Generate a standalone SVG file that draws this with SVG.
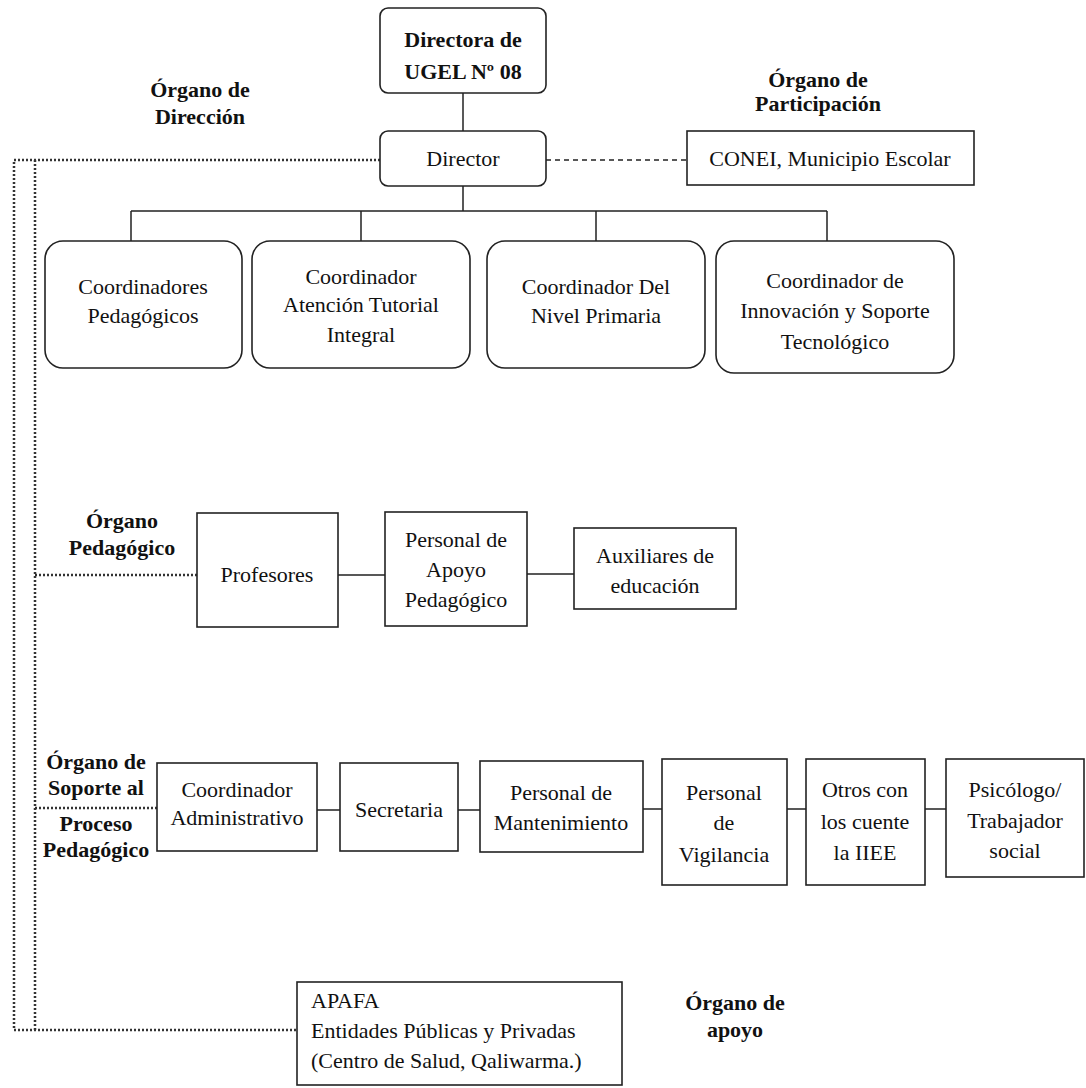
<svg xmlns="http://www.w3.org/2000/svg" width="1086" height="1088" viewBox="0 0 1086 1088">
<style>
.box{fill:#fff;stroke:#222;stroke-width:1.6}
.t{font-family:"Liberation Serif","Times New Roman",Tinos,"DejaVu Serif",serif;font-size:22px;fill:#111;text-anchor:middle}
.b{font-weight:bold}
.l{text-anchor:start}
.ln{stroke:#222;stroke-width:1.5;fill:none}
.dash{stroke:#222;stroke-width:1.3;fill:none;stroke-dasharray:5 4}
.dot{stroke:#333;stroke-width:2.5;fill:none;stroke-dasharray:2 2}
</style>
<rect width="1086" height="1088" fill="#fff"/>
<g id="connectors">
<path class="dot" d="M380 160 H14 V1030 H297"/>
<path class="dot" d="M35 160 V1030"/>
<path class="dot" d="M35 575 H197"/>
<path class="dot" d="M35 808 H157"/>
<path class="ln" d="M463 93 V131"/>
<path class="dash" d="M546 160 H687"/>
<path class="ln" d="M463 186 V211 M131 211 H827 M131 211 V241 M361 211 V241 M596 211 V241 M827 211 V241"/>
<path class="ln" d="M338 575 H385 M527 574 H574"/>
<path class="ln" d="M317 810 H340 M458 810 H480 M643 809 H662 M787 809 H806 M925 809 H946"/>
</g>
<g id="labels">
<text class="t b" x="200" y="97">Órgano de</text>
<text class="t b" x="200" y="124">Dirección</text>
<text class="t b" x="818" y="87">Órgano de</text>
<text class="t b" x="818" y="111">Participación</text>
<text class="t b" x="122" y="528">Órgano</text>
<text class="t b" x="122" y="555">Pedagógico</text>
<text class="t b" x="96" y="769">Órgano de</text>
<text class="t b" x="96" y="795">Soporte al</text>
<text class="t b" x="96" y="831">Proceso</text>
<text class="t b" x="96" y="857">Pedagógico</text>
<text class="t b" x="735" y="1010">Órgano de</text>
<text class="t b" x="735" y="1037">apoyo</text>
</g>
<g id="directora">
<rect class="box" x="380" y="8" width="166" height="85" rx="8"/>
<text class="t b" x="463" y="47">Directora de</text>
<text class="t b" x="463" y="79">UGEL Nº 08</text>
</g>
<g id="director">
<rect class="box" x="380" y="131" width="166" height="55" rx="8"/>
<text class="t" x="463" y="166">Director</text>
</g>
<g id="conei">
<rect class="box" x="687" y="131" width="287" height="54"/>
<text class="t" x="830" y="166">CONEI, Municipio Escolar</text>
</g>
<g id="coord-pedagogicos">
<rect class="box" x="45" y="241" width="197" height="127" rx="18"/>
<text class="t" x="143" y="294">Coordinadores</text>
<text class="t" x="143" y="323">Pedagógicos</text>
</g>
<g id="coord-tutorial">
<rect class="box" x="252" y="241" width="218" height="127" rx="18"/>
<text class="t" x="361" y="284">Coordinador</text>
<text class="t" x="361" y="312">Atención Tutorial</text>
<text class="t" x="361" y="342">Integral</text>
</g>
<g id="coord-primaria">
<rect class="box" x="487" y="241" width="218" height="127" rx="18"/>
<text class="t" x="596" y="294">Coordinador Del</text>
<text class="t" x="596" y="323">Nivel Primaria</text>
</g>
<g id="coord-innovacion">
<rect class="box" x="716" y="241" width="238" height="132" rx="18"/>
<text class="t" x="835" y="288">Coordinador de</text>
<text class="t" x="835" y="318">Innovación y Soporte</text>
<text class="t" x="835" y="349">Tecnológico</text>
</g>
<g id="profesores">
<rect class="box" x="197" y="513" width="141" height="114"/>
<text class="t" x="267" y="582">Profesores</text>
</g>
<g id="apoyo-pedagogico">
<rect class="box" x="385" y="512" width="142" height="114"/>
<text class="t" x="456" y="547">Personal de</text>
<text class="t" x="456" y="577">Apoyo</text>
<text class="t" x="456" y="607">Pedagógico</text>
</g>
<g id="auxiliares">
<rect class="box" x="574" y="528" width="162" height="81"/>
<text class="t" x="655" y="563">Auxiliares de</text>
<text class="t" x="655" y="593">educación</text>
</g>
<g id="coord-administrativo">
<rect class="box" x="157" y="763" width="160" height="88"/>
<text class="t" x="237" y="797">Coordinador</text>
<text class="t" x="237" y="825">Administrativo</text>
</g>
<g id="secretaria">
<rect class="box" x="340" y="763" width="118" height="88"/>
<text class="t" x="399" y="817">Secretaria</text>
</g>
<g id="mantenimiento">
<rect class="box" x="480" y="761" width="163" height="91"/>
<text class="t" x="561" y="800">Personal de</text>
<text class="t" x="561" y="830">Mantenimiento</text>
</g>
<g id="vigilancia">
<rect class="box" x="662" y="759" width="125" height="126"/>
<text class="t" x="724" y="800">Personal</text>
<text class="t" x="724" y="830">de</text>
<text class="t" x="724" y="862">Vigilancia</text>
</g>
<g id="otros">
<rect class="box" x="806" y="759" width="119" height="126"/>
<text class="t" x="865" y="797">Otros con</text>
<text class="t" x="865" y="829">los cuente</text>
<text class="t" x="865" y="860">la IIEE</text>
</g>
<g id="psicologo">
<rect class="box" x="946" y="759" width="138" height="118"/>
<text class="t" x="1015" y="797">Psicólogo/</text>
<text class="t" x="1015" y="828">Trabajador</text>
<text class="t" x="1015" y="858">social</text>
</g>
<g id="apafa">
<rect class="box" x="297" y="982" width="325" height="103"/>
<text class="t l" x="311" y="1008">APAFA</text>
<text class="t l" x="311" y="1038">Entidades Públicas y Privadas</text>
<text class="t l" x="311" y="1068">(Centro de Salud, Qaliwarma.)</text>
</g>
</svg>
